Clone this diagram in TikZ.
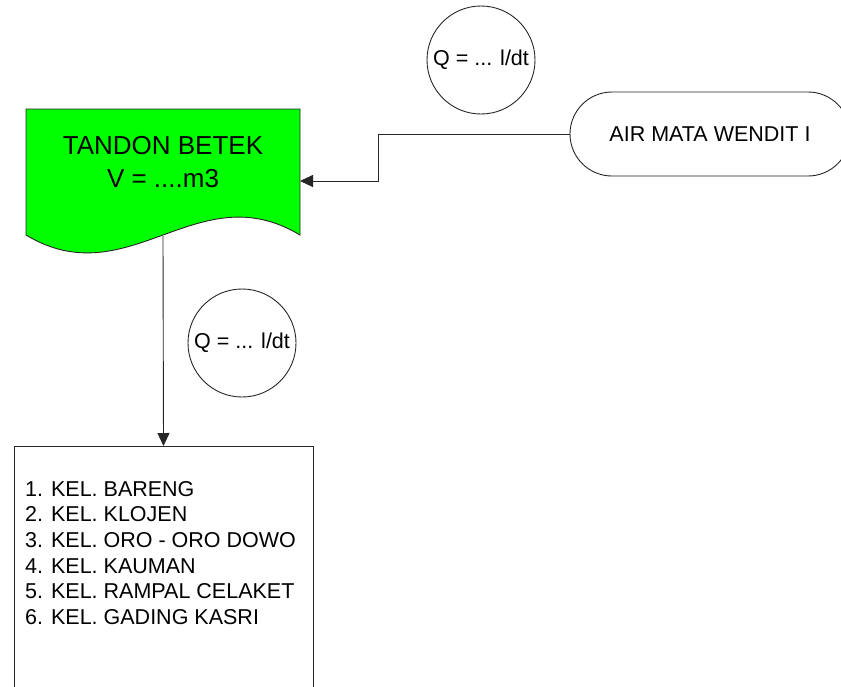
\documentclass[tikz,border=0pt]{standalone}
\usepackage{fontspec}
\setmainfont{Liberation Sans}
\usetikzlibrary{arrows.meta}

\begin{document}
\begin{tikzpicture}[x=1pt,y=-1pt,
  line/.style={draw=black!85,line width=0.9pt},
  flow/.style={line,-{Triangle[length=13pt,width=12pt]}},
  debit/.style={line,circle,minimum size=108pt,inner sep=0pt,font=\fontsize{21.5}{25.6}\selectfont}]
\useasboundingbox (0,0) rectangle (841,686);
\clip (0,0) rectangle (841,686);
% tandon (document shape)
\filldraw[line,fill=green] (26,109) -- (300,109) -- (300,235) .. controls (197,173) and (129,297) .. (26,235) -- cycle;
\node[anchor=north,inner sep=0pt,align=center,font=\fontsize{26}{33}\selectfont] (tandon) at (163,136) {TANDON BETEK\\V = ....m3};
\coordinate (tin) at (300,181);
\coordinate (tout) at (163,236);
% sumber
\node[line,rounded corners=42pt,minimum width=280pt,minimum height=84pt,font=\fontsize{21.5}{25.6}\selectfont] (wendit) at (710,134) {AIR MATA WENDIT I};
\node[debit] (q1) at (481,60) {Q = ... l/dt};
\node[debit] (q2) at (242,343) {Q = ... l/dt};
% kelurahan
\node[line,minimum width=299pt,minimum height=300pt,anchor=north] (kel) at (163.5,446) {};
\node[anchor=north west,inner sep=0pt,align=left,font=\fontsize{21.5}{25.6}\selectfont] (daftar) at (25,481) {1. KEL. BARENG\\2. KEL. KLOJEN\\3. KEL. ORO - ORO DOWO\\4. KEL. KAUMAN\\5. KEL. RAMPAL CELAKET\\6. KEL. GADING KASRI};
\draw[flow] (wendit.west) -- ++(-191,0) |- (tin);
\draw[flow] (tout) -- (kel.north);
\end{tikzpicture}
\end{document}
